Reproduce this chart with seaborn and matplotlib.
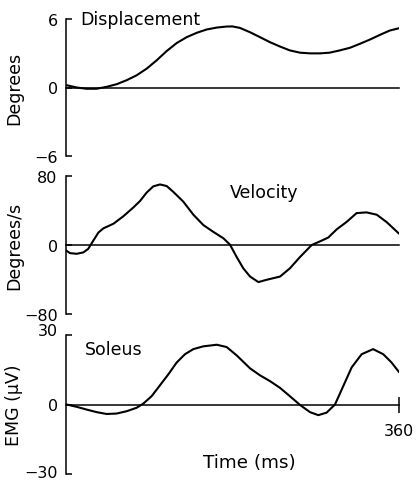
import matplotlib
matplotlib.use("Agg")
import matplotlib.pyplot as plt
import matplotlib.transforms as mtransforms
import seaborn as sns
import pandas as pd

# Ankle displacement (degrees) against time (ms)
disp_t = [0.7, 11.5, 22, 33, 44, 54.8, 65.6, 76.4, 87.2, 98, 108.8, 119.6,
          130.5, 141.3, 152, 163, 173.7, 180, 188, 199, 209.7, 220.5, 231,
          242, 253, 263.8, 274.6, 285, 296, 307, 317.8, 328.6, 339.4, 350, 360]
disp_deg = [0.2, 0.0, -0.11, -0.11, 0.06, 0.29, 0.64, 1.07, 1.65, 2.38, 3.19,
            3.89, 4.41, 4.79, 5.08, 5.25, 5.34, 5.35, 5.22, 4.84, 4.41, 3.97,
            3.6, 3.25, 3.05, 2.99, 2.99, 3.05, 3.25, 3.48, 3.83, 4.2, 4.61,
            4.99, 5.19]

# Angular velocity (degrees/s)
vel_t = [0, 4.3, 11.5, 18.7, 24, 29.5, 35, 40.4, 51.2, 62, 72.8, 80, 87.2,
         94.4, 101.6, 108.8, 116, 126.8, 137.7, 148.5, 159.3, 170, 177.3,
         184.5, 191.7, 199, 208, 217, 231.4, 242, 253, 265.6, 274.6, 283.6,
         292.6, 303.4, 314.2, 325, 336, 346.7, 360]
vel_dps = [-6.3, -9.4, -10.2, -8.6, -4.5, 5, 14.4, 19.3, 24.6, 33.3, 43.5,
           51, 60.8, 68, 70.2, 68.4, 61.6, 50.3, 35.1, 23.1, 15.2, 7.9, 0.4,
           -13.9, -27.1, -36.6, -43, -40.3, -36.6, -27.1, -13.9, 0, 4.2, 8.7,
           18.1, 26.8, 37, 37.8, 35.1, 26.5, 13.2]

# Soleus EMG (microvolts)
emg_t = [0.7, 11.5, 22.4, 33.2, 44, 54.8, 65.6, 76.4, 83.6, 92.6, 101.6,
         110.6, 119.6, 128.6, 137.6, 148.4, 163, 173.7, 184.5, 199,
         209.7, 220.5, 231.3, 242, 253, 263.8, 272.8, 281.8, 290.8, 299.8,
         308.8, 319.6, 332, 343, 352, 360]
emg_uv = [0, -1.0, -2.2, -3.3, -4.1, -3.9, -2.9, -1.4, 0.4, 3.6, 8.3, 13,
          18.1, 21.7, 23.9, 25.1, 25.8, 24.8, 21.2, 15.6, 12.6, 10.1,
          7.2, 3.6, -0.2, -3.3, -4.6, -3.5, 0, 8, 16, 21.7, 23.9, 21.7, 18.1,
          14]

panels = [
    ("Displacement", "Degrees", disp_t, disp_deg, 6),
    ("Velocity", "Degrees/s", vel_t, vel_dps, 80),
    ("Soleus", "EMG (\u03bcV)", emg_t, emg_uv, 30),
]

sns.set_theme(style="white")
plt.rcParams["font.family"] = ["DejaVu Sans"]
plt.rcParams["axes.unicode_minus"] = True
plt.rcParams["text.color"] = "black"
plt.rcParams["xtick.color"] = "black"
plt.rcParams["ytick.color"] = "black"
plt.rcParams["xtick.labelcolor"] = "black"
plt.rcParams["ytick.labelcolor"] = "black"

fig = plt.figure(figsize=(4.18, 4.81), dpi=100)
W, H = 418, 481
boxes = [(20, 157), (177, 315), (336, 475)]
x0, x1 = 66, 399

title_pos = [(0.042, 0.963), (0.4925, 0.848), (0.057, 0.863)]
label_fs = 12.5
tick_fs = 11.5


def nudge(label, dy_px):
    label.set_transform(label.get_transform() +
                        mtransforms.ScaledTranslation(0, dy_px / 100,
                                                      fig.dpi_scale_trans))


for i, ((name, ylab, t, v, lim), (top, bot)) in enumerate(zip(panels, boxes)):
    ax = fig.add_axes([x0 / W, 1 - bot / H, (x1 - x0) / W, (bot - top) / H])
    df = pd.DataFrame({"t": t, "v": v})
    sns.lineplot(data=df, x="t", y="v", ax=ax, color="black", linewidth=1.5)
    ax.set_xlim(0, 360)
    ax.set_ylim(-lim, lim)
    ax.set_facecolor("none")
    for s in ("top", "right"):
        ax.spines[s].set_visible(False)
    ax.spines["left"].set_color("black")
    ax.spines["left"].set_linewidth(1.1)
    ax.spines["bottom"].set_position(("data", 0))
    ax.spines["bottom"].set_color("black")
    ax.spines["bottom"].set_linewidth(1.1)
    ax.set_yticks([-lim, 0, lim])
    labels = ax.set_yticklabels([f"\u2212{lim}", "0", f"{lim}"],
                                fontsize=tick_fs, color="black")
    ax.tick_params(axis="y", direction="in", length=4, width=1.1,
                   color="black", left=True, pad=6)
    if i == 2:
        # the EMG scale labels sit a little above their ticks
        nudge(labels[2], 6)
        nudge(labels[0], 3)
        ax.set_xticks([360])
        ax.set_xticklabels(["360"], fontsize=tick_fs, color="black")
        ax.tick_params(axis="x", direction="inout", length=12, width=1.1,
                       color="black", bottom=True, pad=7)
        ax.text(0.411, 0.05, "Time (ms)", transform=ax.transAxes,
                fontsize=13.2, va="baseline", ha="left", color="black")
    else:
        ax.set_xticks([])
    ax.set_xlabel("")
    ax.set_ylabel("")
    fig.text(14 / W, 1 - ((top + bot) / 2) / H, ylab, rotation=90,
             fontsize=label_fs, ha="center", va="center", color="black")
    ax.text(title_pos[i][0], title_pos[i][1], name, transform=ax.transAxes,
            fontsize=label_fs, va="baseline", ha="left", color="black")

fig.savefig("out.png", dpi=100)
